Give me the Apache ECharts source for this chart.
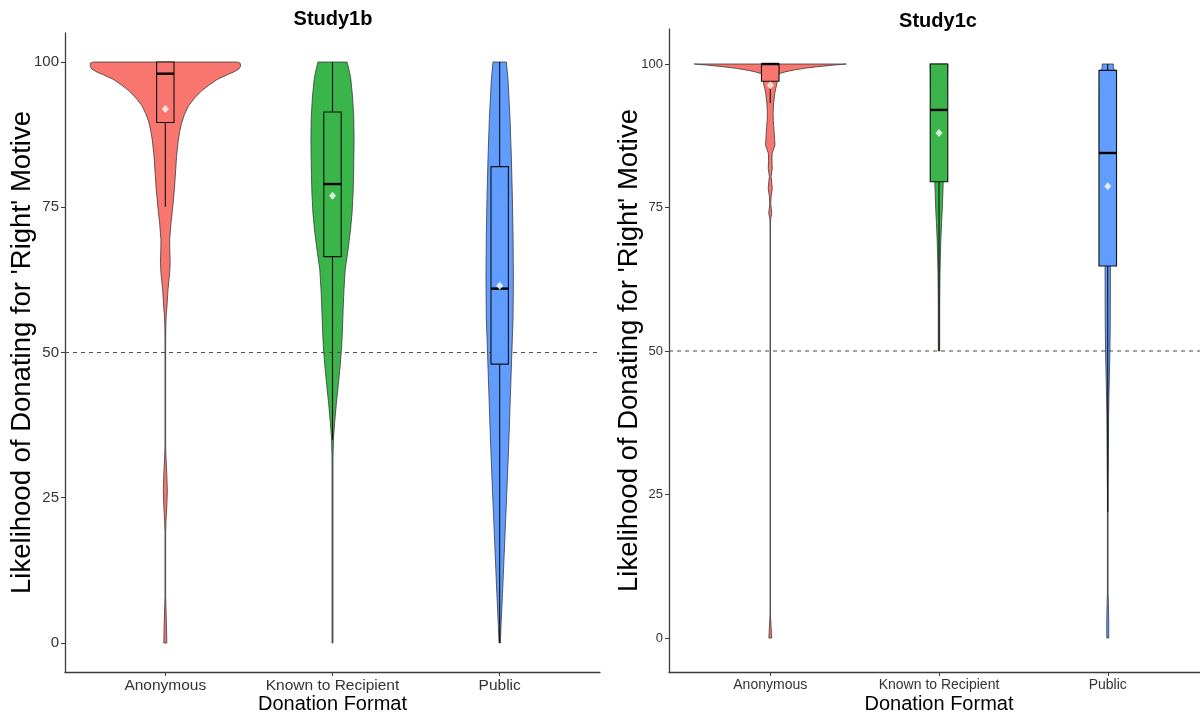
<!DOCTYPE html>
<html><head><meta charset="utf-8">
<script src="https://cdn.jsdelivr.net/npm/echarts@6/dist/echarts.min.js"></script>
<style>html,body{margin:0;padding:0;background:#fff}#c{width:1200px;height:715px}</style>
</head><body><div id="c"></div>
<script>
// ---------- data ----------
const categories = ['Anonymous', 'Known to Recipient', 'Public'];
const yTicks = [0, 25, 50, 75, 100];
const refValue = 50;
const panelTitles = ['Study1b', 'Study1c'];
const xTitle = 'Donation Format';
const yTitle = "Likelihood of Donating for 'Right' Motive";

// violin profiles: [value, half-width (category units)]
const anonB = [[100,0.43],[99.8,0.448],[99.3,0.45],[98.8,0.44],[98.3,0.41],[97.8,0.37],[97.0,0.31],[96.0,0.26],[95.0,0.215],[93.8,0.175],[92.5,0.14],[91.0,0.115],[89.5,0.097],[88,0.086],[86.6,0.078],[83.7,0.067],[80.9,0.061],[78,0.054],[75.2,0.045],[72.3,0.034],[69.4,0.026],[67.5,0.027],[65.5,0.029],[63.7,0.026],[62,0.02],[60.8,0.016],[58,0.010],[56.3,0.005],[54.6,0.003],[52,0.002],[34,0.002],[32,0.004],[29,0.009],[26.3,0.012],[23.5,0.009],[21,0.004],[19,0.002],[8,0.002],[6,0.004],[3,0.007],[0,0.009]];
const knownB = [[100,0.087],[98.5,0.1],[97.2,0.109],[94,0.12],[90.6,0.127],[87,0.129],[84,0.128],[80.5,0.126],[77.4,0.123],[74,0.117],[70.9,0.107],[67.5,0.092],[64.3,0.076],[61,0.069],[57.7,0.064],[54.4,0.06],[51.1,0.055],[47.8,0.046],[44.5,0.035],[41.2,0.023],[38,0.013],[35.3,0.006],[32,0.003],[0,0.003]];
const publicB = [[100,0.04],[96.9,0.05],[90.1,0.062],[83.3,0.07],[76.5,0.076],[69.7,0.08],[62.9,0.082],[56.1,0.08],[49.3,0.072],[42.5,0.064],[35.7,0.056],[28.9,0.047],[22.1,0.037],[15.3,0.027],[8.5,0.017],[3,0.008],[0,0.004]];

const anonC = [[100,0.45],[99.83,0.381],[99.54,0.282],[99.25,0.202],[98.96,0.143],[98.67,0.093],[98.37,0.06],[98.08,0.04],[97.5,0.038],[96.6,0.04],[95.8,0.033],[94.9,0.027],[93.2,0.02],[91.4,0.017],[90.2,0.018],[89.1,0.021],[87.8,0.024],[86.8,0.026],[85.9,0.028],[85.2,0.02],[84.4,0.011],[83.2,0.01],[81.8,0.012],[81,0.008],[80.4,0.005],[79.4,0.009],[78.3,0.012],[77.5,0.008],[76.9,0.005],[75.7,0.003],[74.8,0.006],[74.0,0.009],[73.4,0.005],[72.9,0.002],[71.5,0.001],[4,0.001],[2,0.005],[0,0.008]];
const knownC = [[100,0.052],[97,0.05],[92,0.042],[86,0.033],[81,0.027],[79.5,0.025],[75.1,0.02],[72.2,0.015],[69.3,0.011],[66.4,0.008],[63.5,0.006],[58,0.004],[50,0.004]];
const publicC = [[100,0.033],[99.3,0.033],[99,0.04],[95,0.05],[85,0.05],[75,0.04],[66,0.02],[64.8,0.016],[55,0.015],[50,0.013],[46,0.01],[42,0.007],[38,0.005],[33,0.004],[25,0.002],[8,0.002],[6,0.004],[3,0.006],[0,0.006]];

// box stats: [lower whisker, Q1, median, Q3, upper whisker]
const boxB = [[75.1,89.6,98,100,100],[35,66.5,79,91.4,100],[0,48,61,82,100]];
const meanB = [91.9, 77, 61.5];
const boxC = [[93.2,97,100,100,100],[50,79.5,92,100,100],[22,64.8,84.5,98.9,100]];
const meanC = [96.3, 88, 78.7];

// ---------- styling ----------
const COLORS = ['#F8766D', '#3AB54A', '#619CFF'];
const FONT = 'Liberation Sans, Arial, Helvetica, sans-serif';
const BOX_HW = 0.052;

const chart = echarts.init(document.getElementById('c'), null, {renderer: 'canvas'});

function violinRender(profiles) {
  return function (params, api) {
    const i = params.dataIndex;
    const x = api.value(0);
    const prof = profiles[i];
    const right = prof.map(p => api.coord([x + p[1], p[0]]));
    const left = prof.slice().reverse().map(p => api.coord([x - p[1], p[0]]));
    return {
      type: 'polygon',
      shape: {points: right.concat(left)},
      style: {fill: COLORS[i], stroke: '#3a3a3a', lineWidth: 0.8}
    };
  };
}

function boxRender(params, api) {
  const i = params.dataIndex;
  const x = api.value(0), lo = api.value(1), q1 = api.value(2), med = api.value(3), q3 = api.value(4), hi = api.value(5);
  const pLo = api.coord([x, lo]), pQ1 = api.coord([x, q1]), pQ3 = api.coord([x, q3]), pHi = api.coord([x, hi]);
  const tl = api.coord([x - BOX_HW, q3]), br = api.coord([x + BOX_HW, q1]);
  const ml = api.coord([x - BOX_HW, med]), mr = api.coord([x + BOX_HW, med]);
  const children = [];
  if (pQ1[1] !== pLo[1]) children.push({type: 'line', shape: {x1: pLo[0], y1: pLo[1], x2: pQ1[0], y2: pQ1[1]}, style: {stroke: '#111', lineWidth: 1.1}});
  if (pQ3[1] !== pHi[1]) children.push({type: 'line', shape: {x1: pQ3[0], y1: pQ3[1], x2: pHi[0], y2: pHi[1]}, style: {stroke: '#111', lineWidth: 1.1}});
  children.push({type: 'rect', shape: {x: tl[0], y: tl[1], width: br[0] - tl[0], height: br[1] - tl[1]}, style: {fill: COLORS[i], stroke: '#111', lineWidth: 1.1}});
  children.push({type: 'line', shape: {x1: ml[0], y1: ml[1], x2: mr[0], y2: mr[1]}, style: {stroke: '#000', lineWidth: 2.4}});
  return {type: 'group', children};
}

function xAxisCfg(g, labelSize) {
  return {
    type: 'value', gridIndex: g, min: 0.4, max: 3.6,
    splitLine: {show: false},
    axisLine: {show: true, onZero: false, lineStyle: {color: '#3d3d3d', width: 1.3}},
    axisTick: {show: true, customValues: [1, 2, 3], length: 4, lineStyle: {color: '#3d3d3d'}},
    axisLabel: {customValues: [1, 2, 3], formatter: v => categories[Math.round(v) - 1], fontSize: labelSize, color: '#333', fontFamily: FONT, margin: 6},
    name: xTitle, nameLocation: 'middle', nameGap: 22.5, nameMoveOverlap: false,
    nameTextStyle: {fontSize: 20, color: '#000', fontFamily: FONT}
  };
}
function yAxisCfg(g, min, max, labelSize, gap) {
  return {
    type: 'value', gridIndex: g, min: min, max: max,
    splitLine: {show: false},
    axisLine: {show: true, onZero: false, lineStyle: {color: '#3d3d3d', width: 1.3}},
    axisTick: {show: true, customValues: yTicks, length: 4, lineStyle: {color: '#3d3d3d'}},
    axisLabel: {customValues: yTicks, fontSize: labelSize, color: '#333', fontFamily: FONT, margin: 6},
    name: yTitle, nameLocation: 'middle', nameRotate: 90, nameGap: gap, nameMoveOverlap: false,
    nameTextStyle: {fontSize: 27.5, color: '#000', fontFamily: FONT}
  };
}

function panelSeries(g, profiles, boxes, means) {
  const idx = [1, 2, 3];
  return [
    {type: 'custom', xAxisIndex: g, yAxisIndex: g, clip: false, silent: true, z: 2,
     renderItem: violinRender(profiles), data: idx.map(v => [v])},
    {type: 'line', xAxisIndex: g, yAxisIndex: g, silent: true, z: 3, symbol: 'none',
     lineStyle: {color: '#4d4d4d', width: 1.2, type: [4, 4]},
     data: [[0.4, refValue], [3.6, refValue]]},
    {type: 'custom', xAxisIndex: g, yAxisIndex: g, clip: false, silent: true, z: 4,
     renderItem: boxRender, data: boxes.map((b, i) => [idx[i]].concat(b))},
    {type: 'scatter', xAxisIndex: g, yAxisIndex: g, silent: true, z: 5, symbol: 'diamond', symbolSize: [7, 8],
     itemStyle: {color: '#fff'}, data: means.map((m, i) => [idx[i], m])}
  ];
}

chart.setOption({
  animation: false,
  backgroundColor: '#fff',
  title: [
    {text: panelTitles[0], left: 333, top: 9, padding: 0, textAlign: 'center', textStyle: {fontSize: 20, fontWeight: 'bold', color: '#000', fontFamily: FONT}},
    {text: panelTitles[1], left: 938, top: 11, padding: 0, textAlign: 'center', textStyle: {fontSize: 20, fontWeight: 'bold', color: '#000', fontFamily: FONT}}
  ],
  grid: [
    {left: 65, top: 33, width: 535, height: 639, containLabel: false, outerBoundsMode: 'none'},
    {left: 669, top: 29, width: 540, height: 643, containLabel: false, outerBoundsMode: 'none'}
  ],
  xAxis: [xAxisCfg(0, 15.5), xAxisCfg(1, 14)],
  yAxis: [yAxisCfg(0, -5, 105, 15, 29), yAxisCfg(1, -5.92, 106.1, 13, 25.5)],
  series: [].concat(
    panelSeries(0, [anonB, knownB, publicB], boxB, meanB),
    panelSeries(1, [anonC, knownC, publicC], boxC, meanC)
  )
});
</script></body></html>
